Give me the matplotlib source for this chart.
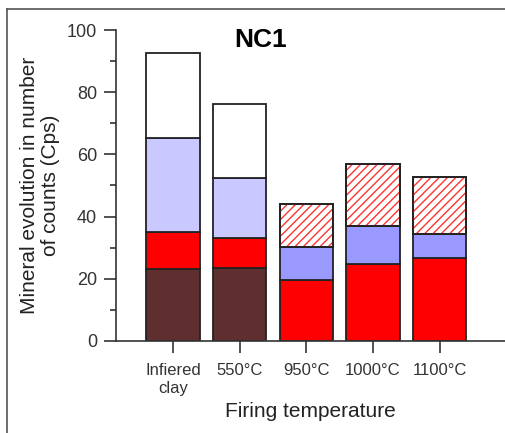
import numpy as np
import matplotlib
matplotlib.use('Agg')
import matplotlib.pyplot as plt
from matplotlib.lines import Line2D

plt.rcParams['font.family'] = ['Liberation Sans', 'DejaVu Sans']
plt.rcParams['hatch.linewidth'] = 1.0

# data (Cps), segments stacked bottom to top
temps = ['Infiered\nclay', '550°C', '950°C', '1000°C', '1100°C']
brown = [23.0, 23.6, 0, 0, 0]
red = [12.0, 9.4, 19.6, 24.8, 26.8]
lavender = [30.3, 19.3, 0, 0, 0]
blue = [0, 0, 10.6, 12.3, 7.5]
white = [27.2, 24.0, 0, 0, 0]
hatched = [0, 0, 13.8, 19.9, 18.3]

segments = [
    (brown, dict(color='#5f2f2f')),
    (red, dict(color='#ff0000')),
    (lavender, dict(color='#c9c9ff')),
    (blue, dict(color='#9999ff')),
    (white, dict(color='white')),
    (hatched, dict(color='white', hatch='////')),
]

fig = plt.figure(figsize=(5.05, 4.33), dpi=100)
ax = fig.add_axes([0.2297, 0.2125, 0.7703, 0.7182])

x = np.arange(len(temps))
bottom = np.zeros(len(temps))
for vals, style in segments:
    vals = np.array(vals, dtype=float)
    keep = vals > 0
    hatch = style.pop('hatch', None)
    ax.bar(x[keep], vals[keep], bottom=bottom[keep], width=0.8,
           edgecolor='#222222', linewidth=1.3, zorder=2, **style)
    if hatch:
        # red hatch lines on a second patch, then the dark outline on top
        ax.bar(x[keep], vals[keep], bottom=bottom[keep], width=0.8,
               color='none', edgecolor='#ff3333', hatch=hatch,
               linewidth=0, zorder=3)
        ax.bar(x[keep], vals[keep], bottom=bottom[keep], width=0.8,
               color='none', edgecolor='#222222', linewidth=1.3, zorder=4)
    bottom = bottom + vals

ax.set_xlim(-0.855, 4.98)
ax.set_ylim(0, 100)
ax.set_xticks(x)
ax.set_xticklabels(temps, fontsize=12, color='#333333', linespacing=1.25)
ax.set_yticks([0, 20, 40, 60, 80, 100])
ax.set_yticks([10, 30, 50, 70, 90], minor=True)
ax.tick_params(axis='y', which='major', length=8.5, width=1.2, pad=5,
               labelsize=13, colors='#333333', labelcolor='#333333')
ax.tick_params(axis='y', which='minor', length=4.5, width=1.2, color='#333333')
ax.tick_params(axis='x', length=8.5, width=1.2, pad=7, colors='#333333',
               labelcolor='#333333')

for s in ['top', 'right']:
    ax.spines[s].set_visible(False)
for s in ['left', 'bottom']:
    ax.spines[s].set_linewidth(1.2)
    ax.spines[s].set_color('#333333')

ax.set_ylabel('Mineral evolution in number\nof counts (Cps)', fontsize=15,
              color='#222222', labelpad=5, linespacing=1.15)
ax.set_xlabel('Firing temperature', fontsize=15, color='#222222', labelpad=5)
ax.text(0.372, 1.005, 'NC1', transform=ax.transAxes, ha='center', va='top',
        fontsize=19, fontweight='bold')

# frame lines of the original panel
fig.add_artist(Line2D([7 / 505, 1], [1 - 9 / 433, 1 - 9 / 433],
                      transform=fig.transFigure, color='#555555', lw=1.2))
fig.add_artist(Line2D([7 / 505, 7 / 505], [0, 1 - 9 / 433],
                      transform=fig.transFigure, color='#555555', lw=1.2))

fig.savefig('out.png', dpi=100)
